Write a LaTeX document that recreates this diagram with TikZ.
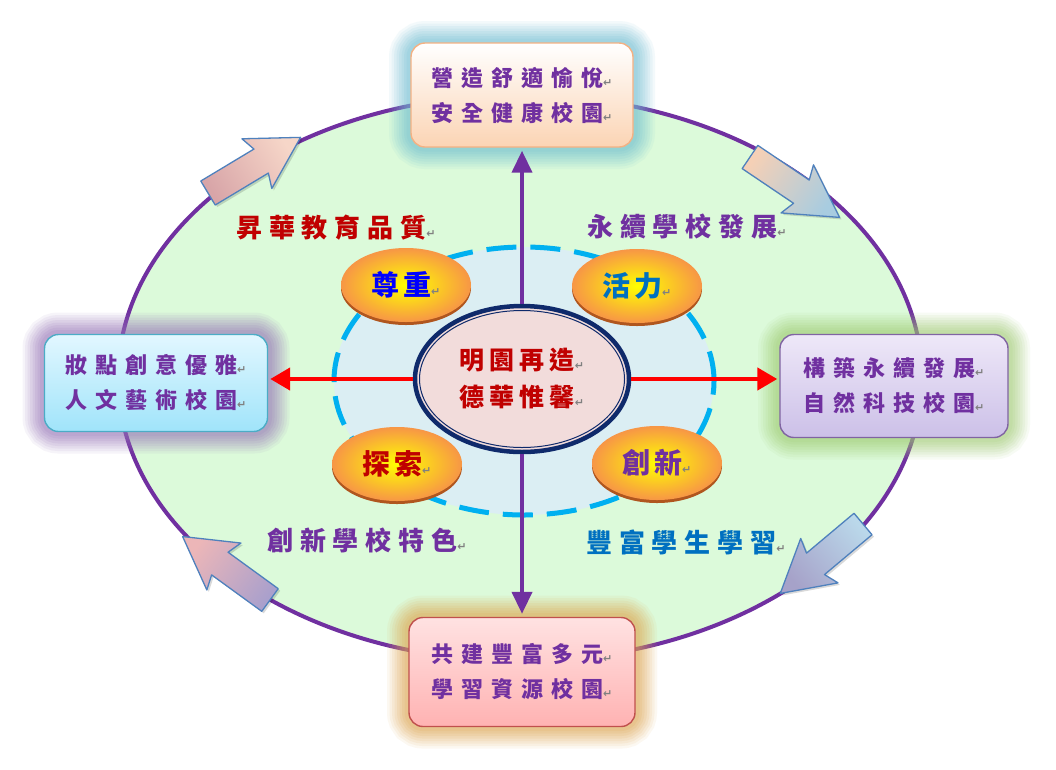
\documentclass[tikz,border=0pt]{standalone}
\usepackage{fontspec}
\usepackage{xcolor}
\usetikzlibrary{arrows.meta,shapes.geometric}

\newfontfamily\cjk{Noto Sans CJK TC}
\newfontfamily\symfont{DejaVu Sans}

\definecolor{fieldgreen}{HTML}{DCFADA}
\definecolor{ringpurple}{HTML}{7030A0}
\definecolor{poolblue}{HTML}{DBEEF3}
\definecolor{dashcyan}{HTML}{00B0F0}
\definecolor{corepink}{HTML}{F2DCDB}
\definecolor{corenavy}{HTML}{0F2A6B}
\definecolor{corered}{HTML}{C00000}
\definecolor{petalorange}{HTML}{F79646}
\definecolor{petalbrown}{HTML}{B0561E}
\definecolor{tagblue}{HTML}{0070C0}
\definecolor{retgray}{HTML}{808080}
\definecolor{arrowline}{HTML}{4F81BD}
% block arrows
\definecolor{tltail}{RGB}{216,165,168}
\definecolor{tltip}{RGB}{246,214,200}
\definecolor{trtail}{RGB}{245,208,182}
\definecolor{trtip}{RGB}{168,204,224}
\definecolor{brtail}{RGB}{186,216,234}
\definecolor{brtip}{RGB}{166,162,201}
\definecolor{bltail}{RGB}{170,160,204}
\definecolor{bltip}{RGB}{236,182,184}
% boxes
\definecolor{topglow}{RGB}{110,190,210}
\definecolor{topline}{RGB}{244,177,131}
\definecolor{topfill}{RGB}{251,212,180}
\definecolor{leftglow}{RGB}{150,116,184}
\definecolor{leftline}{RGB}{75,172,198}
\definecolor{lefttop}{RGB}{226,247,255}
\definecolor{leftfill}{RGB}{160,228,250}
\definecolor{rightglow}{RGB}{160,204,116}
\definecolor{rightline}{RGB}{128,100,162}
\definecolor{righttop}{RGB}{238,232,248}
\definecolor{rightfill}{RGB}{204,192,232}
\definecolor{bottomglow}{RGB}{222,166,80}
\definecolor{bottomline}{RGB}{192,80,77}
\definecolor{bottomtop}{RGB}{255,226,226}
\definecolor{bottomfill}{RGB}{255,178,178}

\newcommand\boxfont{\cjk\bfseries\fontsize{22}{35}\selectfont\addfontfeatures{LetterSpace=36}}
\newcommand\tagfont{\cjk\bfseries\fontsize{26}{30}\selectfont\addfontfeatures{LetterSpace=26}}
\newcommand\corefont{\cjk\bfseries\fontsize{25}{37}\selectfont\addfontfeatures{LetterSpace=20}}
\newcommand\petalfont{\cjk\bfseries\fontsize{28}{30}\selectfont\addfontfeatures{LetterSpace=12}}
\newcommand\retmark{{\symfont\fontsize{11}{11}\selectfont\textcolor{retgray}{↵}}}

\begin{document}
\begin{tikzpicture}[x=1pt, y=-1pt,
    campus/.style={rounded corners=14pt, line width=1.4pt, minimum width=222pt,
      minimum height=104pt, align=center, text=ringpurple, font=\boxfont},
    glow/.style={preaction={draw=#1, line width=44pt, opacity=0.08},
      preaction={draw=#1, line width=39pt, opacity=0.09},
      preaction={draw=#1, line width=34pt, opacity=0.10},
      preaction={draw=#1, line width=29pt, opacity=0.11},
      preaction={draw=#1, line width=24pt, opacity=0.12},
      preaction={draw=#1, line width=19pt, opacity=0.13},
      preaction={draw=#1, line width=14pt, opacity=0.14},
      preaction={draw=#1, line width=9pt, opacity=0.15}},
    petal/.style={ellipse, minimum width=130pt, minimum height=74pt, inner sep=0pt,
      inner color=yellow, outer color=petalorange, font=\petalfont,
      preaction={fill=petalbrown, transform canvas={yshift=-3pt}}},
    tag/.style={font=\tagfont, inner sep=0pt},
    purpleline/.style={draw=ringpurple, line width=4pt, -{Triangle[width=20pt,length=22pt]}, shorten >=3pt},
    redline/.style={draw=red, line width=4.5pt, -{Triangle[width=22pt,length=20pt]}, shorten >=2pt},
    blockarrow/.style={draw=arrowline, line width=1.3pt, line join=round,
      preaction={fill=black, opacity=0.15, transform canvas={xshift=2pt, yshift=-2pt}}}]

  \fill[white] (0,0) rectangle (1056,769);
  \useasboundingbox (0,0) rectangle (1056,769);

  % outer ring
  \draw[fill=fieldgreen, draw=ringpurple, line width=4pt] (520,378) ellipse [x radius=402pt, y radius=283pt];

  % block arrows round the ring
  \foreach \px/\py/\ang/\ctail/\ctip in {208/193/31/tltail/tltip, 750/157/-34/trtail/trtip,
      863/524/220/brtail/brtip, 270/600/144/bltail/bltip}
    \draw[blockarrow, bottom color=\ctail, top color=\ctip, shading angle=\ang-90, shift={(\px,\py)}, rotate=\ang]
      (0,-14) -- (62,-14) -- (57,-29) -- (108,0) -- (57,29) -- (62,14) -- (0,14) -- cycle;

  % four campus boxes
  \node[campus, glow=topglow, draw=topline, top color=white, bottom color=topfill] (top) at (522,95)
    {營造舒適愉悅\retmark\\安全健康校園\retmark};
  \node[campus, glow=leftglow, draw=leftline, top color=lefttop, bottom color=leftfill,
    minimum width=223pt, minimum height=97pt] (left) at (156,383)
    {妝點創意優雅\retmark\\人文藝術校園\retmark};
  \node[campus, glow=rightglow, draw=rightline, top color=righttop, bottom color=rightfill,
    minimum width=228pt, minimum height=103pt] (right) at (894,386)
    {構築永續發展\retmark\\自然科技校園\retmark};
  \node[campus, glow=bottomglow, draw=bottomline, top color=bottomtop, bottom color=bottomfill,
    minimum width=226pt, minimum height=109pt] (bottom) at (522,672)
    {共建豐富多元\retmark\\學習資源校園\retmark};

  % inner dashed ring
  \draw[fill=poolblue, draw=dashcyan, line width=5pt, dash pattern=on 30pt off 14pt] (524,381) ellipse [x radius=190pt, y radius=134pt];

  % centre
  \node[ellipse, draw=corenavy, line width=4.5pt, fill=corepink, minimum width=214pt, minimum height=146pt,
    inner sep=0pt, text=corered, font=\corefont, align=center] (core) at (522,379)
    {明園再造\retmark\\德華惟馨\retmark};
  \draw[corenavy, line width=1pt] (core.center) ellipse [x radius=102.5pt, y radius=68.5pt];

  \draw[purpleline] (core.north) -- (top.south);
  \draw[purpleline] (core.south) -- (bottom.north);
  \draw[redline] (core.west) -- (core.west -| left.east);
  \draw[redline] (core.east) -- (core.east -| right.west);

  % four petals
  \node[petal, text=blue] (respect) at (406,285) {尊重\retmark};
  \node[petal, text=tagblue] (vigour) at (637,286) {活力\retmark};
  \node[petal, text=corered] (explore) at (397,464) {探索\retmark};
  \node[petal, text=ringpurple] (innovate) at (657,463) {創新\retmark};

  % tags
  \node[tag, text=corered] (tquality) at (336,228) {昇華教育品質\retmark};
  \node[tag, text=ringpurple] (tgrowth) at (687,227) {永續學校發展\retmark};
  \node[tag, text=ringpurple] (tfeature) at (367,540) {創新學校特色\retmark};
  \node[tag, text=tagblue] (tlearning) at (686,542) {豐富學生學習\retmark};
\end{tikzpicture}
\end{document}
